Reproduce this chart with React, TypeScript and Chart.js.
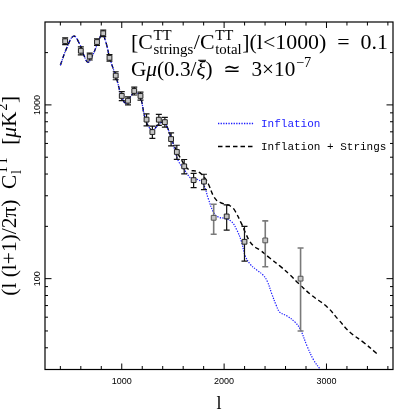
import React, { useEffect, useRef } from 'react';
import { Chart, registerables } from 'chart.js';

Chart.register(...registerables);

// ---- data ----
const pointL = [447, 600, 687, 758, 819, 880, 941, 1000, 1061, 1122, 1183, 1242, 1299, 1362, 1421, 1482, 1538, 1610, 1702, 1803, 1898, 2025, 2199, 2402, 2747];
const pointCl = [2326, 2049, 1900, 2301, 2583, 1867, 1474, 1126, 1057, 1203, 1126, 823, 698, 822, 796, 636, 536, 443, 369, 362, 224, 228, 163, 166, 100];
const pointErr = [103, 108, 87, 102, 114, 82, 78, 67, 56, 63, 60, 66, 56, 60, 52, 55, 50, 42, 35, 37, 44, 38, 37, 49, 50];
const pointGrey = [0, 0, 0, 0, 0, 0, 0, 0, 0, 0, 0, 0, 0, 0, 0, 0, 0, 0, 0, 0, 1, 0, 0, 1, 1];

const inflationL = [400, 460, 530, 590, 630, 670, 715, 765, 810, 845, 885, 950, 1000, 1040, 1080, 1120, 1155, 1185, 1225, 1265, 1305, 1350, 1405, 1440, 1490, 1550, 1615, 1680, 1735, 1795, 1845, 1895, 1945, 2010, 2075, 2125, 2170, 2205, 2255, 2320, 2380, 2420, 2465, 2510, 2545, 2615, 2695, 2745, 2810, 2875, 2940];
const inflationCl = [1690, 2110, 2490, 2230, 1930, 1760, 1930, 2260, 2560, 2290, 1840, 1410, 1110, 1020, 1100, 1180, 1170, 1100, 850, 745, 713, 763, 796, 752, 625, 480, 420, 377, 373, 352, 289, 242, 226, 222, 212, 190, 163, 136, 121, 112, 105, 97, 82, 70, 64, 61, 56, 51, 41, 34, 30];

const stringsL = [400, 460, 530, 590, 630, 670, 715, 765, 810, 845, 885, 950, 1000, 1040, 1080, 1120, 1155, 1185, 1225, 1265, 1305, 1350, 1405, 1440, 1487, 1519, 1568, 1633, 1675, 1731, 1780, 1813, 1845, 1894, 1930, 1959, 2008, 2041, 2077, 2106, 2172, 2204, 2253, 2302, 2351, 2449, 2547, 2645, 2726, 2857, 3004, 3118, 3232, 3362, 3493];
const stringsCl = [1690, 2110, 2490, 2230, 1930, 1760, 1930, 2260, 2560, 2290, 1840, 1410, 1110, 1020, 1100, 1180, 1170, 1100, 850, 745, 713, 763, 796, 752, 638, 570, 501, 435, 420, 415, 399, 378, 352, 300, 281, 275, 268, 265, 258, 246, 206, 186, 163, 152, 146, 131, 118, 105, 94, 80, 69, 58, 49, 43, 37];

const xMajor = [1000, 2000, 3000];
const xMinor = [400, 600, 800, 1200, 1400, 1600, 1800, 2200, 2400, 2600, 2800, 3200, 3400, 3600];
const yMajor = [100, 1000];
const yMinor = [40, 50, 60, 70, 80, 90, 200, 300, 400, 500, 600, 700, 800, 900, 2000];

const X_MIN = 250, X_MAX = 3650, Y_MIN = 30, Y_MAX = 3000;

const legendLabels = ['Inflation', 'Inflation + Strings'];

// ---- rich text helpers ----
type Run = { t: string; it?: boolean; sup?: string; sub?: string; bar?: boolean };
const SERIF = '"Liberation Serif", "DejaVu Serif", serif';
const fontStr = (size: number, it?: boolean) => `${it ? 'italic ' : ''}${size}px ${SERIF}`;

function runsWidth(ctx: CanvasRenderingContext2D, runs: Run[], size: number) {
  let w = 0;
  for (const r of runs) {
    ctx.font = fontStr(size, r.it);
    w += ctx.measureText(r.t).width;
    if (r.sup || r.sub) {
      ctx.font = fontStr(size * 0.68);
      const a = r.sup ? ctx.measureText(r.sup).width : 0;
      const b = r.sub ? ctx.measureText(r.sub).width : 0;
      w += Math.max(a, b) + size * 0.06;
    }
  }
  return w;
}

function drawRuns(ctx: CanvasRenderingContext2D, runs: Run[], x: number, y: number, size: number) {
  ctx.textAlign = 'left';
  ctx.textBaseline = 'alphabetic';
  let cx = x;
  for (const r of runs) {
    ctx.font = fontStr(size, r.it);
    ctx.fillText(r.t, cx, y);
    const w = ctx.measureText(r.t).width;
    if (r.bar) {
      ctx.save();
      ctx.lineWidth = Math.max(1, size * 0.05);
      ctx.beginPath();
      ctx.moveTo(cx + w * 0.2, y - size * 0.74);
      ctx.lineTo(cx + w * 1.05, y - size * 0.74);
      ctx.stroke();
      ctx.restore();
    }
    cx += w;
    if (r.sup || r.sub) {
      ctx.font = fontStr(size * 0.68);
      let a = 0, b = 0;
      if (r.sup) { ctx.fillText(r.sup, cx + size * 0.03, y - size * 0.42); a = ctx.measureText(r.sup).width; }
      if (r.sub) { ctx.fillText(r.sub, cx + size * 0.03, y + size * 0.24); b = ctx.measureText(r.sub).width; }
      cx += Math.max(a, b) + size * 0.06;
    }
  }
}

function fitSize(ctx: CanvasRenderingContext2D, runs: Run[], target: number) {
  const base = 16;
  return base * target / runsWidth(ctx, runs, base);
}

const line1: Run[] = [
  { t: '[C', sup: 'TT', sub: 'strings' },
  { t: '/C', sup: 'TT', sub: 'total' },
  { t: '](l<1000)  =  0.1' },
];
const line2: Run[] = [
  { t: 'G' }, { t: 'μ', it: true }, { t: '(0.3/' }, { t: 'ξ', it: true, bar: true },
  { t: ')  ≃  3×10', sup: '−7' },
];
const yTitle: Run[] = [
  { t: '(l (l+1)/2π)  C', sup: 'TT', sub: 'l' },
  { t: '  [' }, { t: 'μ', it: true }, { t: 'K', sup: '2' }, { t: ']' },
];

const decorPlugin = {
  id: 'decor',
  beforeDatasetDraw(chart: any, args: any) {
    if (args.index !== 0) return;
    const ctx: CanvasRenderingContext2D = chart.ctx;
    const xs = chart.scales.x, ys = chart.scales.y;
    ctx.save();
    for (let i = 0; i < pointL.length; i++) {
      const px = xs.getPixelForValue(pointL[i]);
      const pTop = ys.getPixelForValue(pointCl[i] + pointErr[i]);
      const pBot = ys.getPixelForValue(pointCl[i] - pointErr[i]);
      ctx.strokeStyle = pointGrey[i] ? '#7a7a7a' : '#111';
      ctx.lineWidth = pointGrey[i] ? 1.6 : 1.2;
      ctx.beginPath();
      ctx.moveTo(px, pTop); ctx.lineTo(px, pBot);
      ctx.moveTo(px - 3, pTop); ctx.lineTo(px + 3, pTop);
      ctx.moveTo(px - 3, pBot); ctx.lineTo(px + 3, pBot);
      ctx.stroke();
    }
    ctx.restore();
  },
  afterDraw(chart: any) {
    const ctx: CanvasRenderingContext2D = chart.ctx;
    const { left, right, top, bottom } = chart.chartArea;
    const xs = chart.scales.x, ys = chart.scales.y;
    ctx.save();
    ctx.strokeStyle = '#000';
    ctx.lineWidth = 1.2;
    ctx.strokeRect(left, top, right - left, bottom - top);
    ctx.lineWidth = 1;
    ctx.beginPath();
    const xt = (v: number, len: number) => {
      const p = xs.getPixelForValue(v);
      ctx.moveTo(p, bottom); ctx.lineTo(p, bottom - len);
      ctx.moveTo(p, top); ctx.lineTo(p, top + len);
    };
    const yt = (v: number, len: number) => {
      const p = ys.getPixelForValue(v);
      ctx.moveTo(left, p); ctx.lineTo(left + len, p);
      ctx.moveTo(right, p); ctx.lineTo(right - len, p);
    };
    xMajor.forEach(v => xt(v, 6));
    xMinor.forEach(v => xt(v, 3.5));
    yMajor.forEach(v => yt(v, 6.5));
    yMinor.forEach(v => yt(v, 3));
    ctx.stroke();

    // legend
    ctx.lineWidth = 1.3;
    ctx.strokeStyle = '#1a1aff';
    ctx.setLineDash([1.3, 1.3]);
    ctx.beginPath(); ctx.moveTo(218, 123.5); ctx.lineTo(254, 123.5); ctx.stroke();
    ctx.strokeStyle = '#000';
    ctx.setLineDash([4.5, 3]);
    ctx.beginPath(); ctx.moveTo(218, 146.5); ctx.lineTo(254, 146.5); ctx.stroke();
    ctx.setLineDash([]);
    ctx.font = '11px "Liberation Mono", monospace';
    ctx.textBaseline = 'middle';
    ctx.textAlign = 'left';
    ctx.fillStyle = '#1a1aff';
    ctx.fillText(legendLabels[0], 261, 124);
    ctx.fillStyle = '#000';
    ctx.fillText(legendLabels[1], 261, 147);

    // annotations
    ctx.fillStyle = '#000';
    ctx.strokeStyle = '#000';
    const s1 = fitSize(ctx, line1, 257);
    drawRuns(ctx, line1, 131, 49, s1);
    const s2 = fitSize(ctx, line2, 181);
    drawRuns(ctx, line2, 131, 76, s2);

    // y title
    const s3 = fitSize(ctx, yTitle, 200);
    const w3 = runsWidth(ctx, yTitle, s3);
    ctx.translate(16, (top + bottom) / 2);
    ctx.rotate(-Math.PI / 2);
    drawRuns(ctx, yTitle, -w3 / 2, 0, s3);
    ctx.restore();
  },
};

export default function App() {
  const ref = useRef<HTMLCanvasElement | null>(null);
  useEffect(() => {
    if (!ref.current) return;
    const tickFont = { family: '"Liberation Sans", Arial, sans-serif', size: 9 };
    const chart = new Chart(ref.current, {
      type: 'scatter',
      data: {
        datasets: [
          {
            label: 'data',
            data: pointL.map((l, i) => ({ x: l, y: pointCl[i] })),
            pointStyle: 'rect',
            pointRadius: 3.4,
            borderWidth: 1,
            borderColor: pointGrey.map(g => (g ? '#555' : '#222')),
            backgroundColor: '#c4c4c4',
            order: 0,
          } as any,
          {
            label: legendLabels[1],
            data: stringsL.map((l, i) => ({ x: l, y: stringsCl[i] })),
            showLine: true,
            pointRadius: 0,
            borderColor: '#000',
            borderWidth: 1.4,
            borderDash: [4.5, 3],
            tension: 0.4,
            order: 2,
          } as any,
          {
            label: legendLabels[0],
            data: inflationL.map((l, i) => ({ x: l, y: inflationCl[i] })),
            showLine: true,
            pointRadius: 0,
            borderColor: '#1a1aff',
            borderWidth: 1.2,
            borderDash: [1.3, 1.3],
            tension: 0.4,
            order: 1,
          } as any,
        ],
      },
      options: {
        responsive: false,
        maintainAspectRatio: false,
        animation: false,
        events: [],
        layout: { padding: { left: 0, right: 22, top: 22, bottom: 0 } },
        plugins: { legend: { display: false }, tooltip: { enabled: false } },
        scales: {
          x: {
            type: 'linear',
            min: X_MIN,
            max: X_MAX,
            afterFit: (s: any) => { s.height = 45.5; },
            afterBuildTicks: (s: any) => { s.ticks = xMajor.map(v => ({ value: v })); },
            grid: { display: false, drawTicks: false },
            border: { display: false },
            ticks: {
              autoSkip: false,
              maxRotation: 0,
              padding: 7,
              color: '#000',
              font: tickFont,
              callback: (v: any) => String(v),
            },
            title: {
              display: true,
              text: 'l',
              color: '#000',
              font: { family: SERIF, size: 18 },
              padding: { top: 0, bottom: 0 },
            },
          },
          y: {
            type: 'logarithmic',
            min: Y_MIN,
            max: Y_MAX,
            afterFit: (s: any) => { s.width = 45; },
            afterBuildTicks: (s: any) => { s.ticks = yMajor.map(v => ({ value: v })); },
            grid: { display: false, drawTicks: false },
            border: { display: false },
            ticks: {
              autoSkip: false,
              minRotation: 90,
              maxRotation: 90,
              crossAlign: 'center',
              padding: -2.5,
              color: '#000',
              font: tickFont,
              callback: (v: any) => String(v),
            },
          },
        } as any,
      },
      plugins: [decorPlugin],
    });
    return () => chart.destroy();
  }, []);
  return (
    <div style={{ position: 'fixed', left: 0, top: 0, width: 415, height: 415, background: '#fff' }}>
      <canvas ref={ref} width={415} height={415} style={{ display: 'block' }} />
    </div>
  );
}
